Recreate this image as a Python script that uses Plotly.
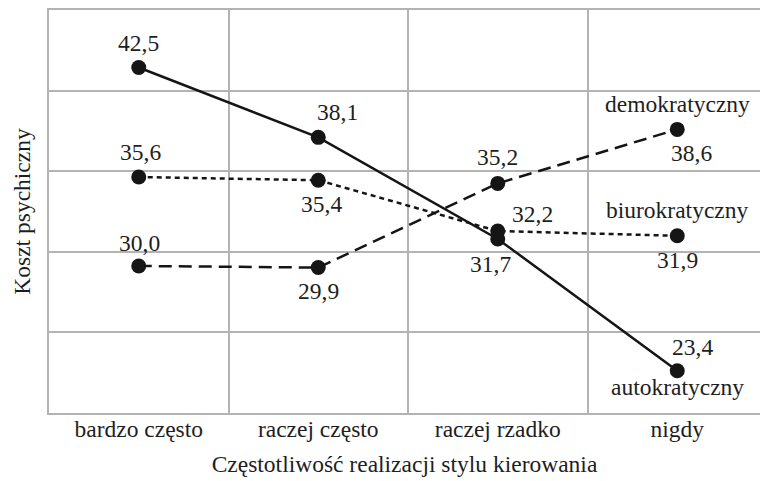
import plotly.graph_objects as go

categories = ["bardzo często", "raczej często", "raczej rzadko", "nigdy"]
series_names = ["autokratyczny", "demokratyczny", "biurokratyczny"]
autokratyczny = [42.5, 38.1, 31.7, 23.4]
demokratyczny = [30.0, 29.9, 35.2, 38.6]
biurokratyczny = [35.6, 35.4, 32.2, 31.9]
value_labels = {
    "autokratyczny": ["42,5", "38,1", "31,7", "23,4"],
    "demokratyczny": ["30,0", "29,9", "35,2", "38,6"],
    "biurokratyczny": ["35,6", "35,4", "32,2", "31,9"],
}
x_title = "Częstotliwość realizacji stylu kierowania"
y_title = "Koszt psychiczny"

FONT = "Liberation Serif"
FS = 23.5
GRID = "#b3b3b3"
TXT = "#1e1e1e"

x = list(range(len(categories)))
ymin, ymax = 20.74, 46.12
xmin, xmax = -0.5, 3.461

fig = go.Figure()
styles = {
    "autokratyczny": "solid",
    "demokratyczny": "13px,7px",
    "biurokratyczny": "5px,4px",
}
data = {"autokratyczny": autokratyczny, "demokratyczny": demokratyczny, "biurokratyczny": biurokratyczny}
for name in ["demokratyczny", "biurokratyczny", "autokratyczny"]:
    fig.add_trace(go.Scatter(
        x=x, y=data[name], mode="lines+markers", name=name,
        line=dict(color="#151515", width=2.5, dash=styles[name]),
        marker=dict(color="#151515", size=15, symbol="circle"),
        showlegend=False,
    ))

# label offsets (xshift, yshift) in pixels relative to each point
offsets = {
    "autokratyczny": [(0, 24), (19, 25), (-7, -25), (15, 24)],
    "demokratyczny": [(1, 23), (0, -23), (0, 26), (14, -24)],
    "biurokratyczny": [(2, 25), (3, -24), (35, 17), (0, -24)],
}
ann = []
for name in series_names:
    for i, (xs, ys) in enumerate(offsets[name]):
        ann.append(dict(x=x[i], y=data[name][i], xref="x", yref="y",
                        text=value_labels[name][i], showarrow=False,
                        xshift=xs, yshift=ys,
                        font=dict(family=FONT, size=FS, color=TXT)))
name_shifts = {"demokratyczny": 25, "biurokratyczny": 26, "autokratyczny": -16}
for name in series_names:
    ann.append(dict(x=x[-1], y=data[name][-1], xref="x", yref="y",
                    text=name, showarrow=False, yshift=name_shifts[name],
                    font=dict(family=FONT, size=FS, color=TXT)))

fig.update_layout(
    width=760, height=481,
    margin=dict(l=49, r=0, t=10, b=68),
    paper_bgcolor="white", plot_bgcolor="white",
    font=dict(family=FONT, size=FS, color=TXT),
    xaxis=dict(range=[xmin, xmax], tickvals=x, ticktext=categories, showgrid=False,
               zeroline=False, ticks="", showline=True, mirror=True, linecolor=GRID, linewidth=1.5,
               automargin=False, ticklabelstandoff=-6,
               tickfont=dict(family=FONT, size=FS, color=TXT),
               minor=dict(tickvals=[-0.5, 0.5, 1.5, 2.5], showgrid=True, gridcolor=GRID, gridwidth=1.5, ticks=""),
               title=dict(text=x_title, font=dict(family=FONT, size=FS, color=TXT), standoff=15)),
    yaxis=dict(range=[ymin, ymax], tickvals=[ymin + i * (ymax - ymin) / 5 for i in range(1, 5)],
               showticklabels=False, showgrid=True, gridcolor=GRID, gridwidth=1.5,
               zeroline=False, ticks="", showline=True, linecolor=GRID, linewidth=1.5,
               automargin=False,
               title=dict(text=y_title, font=dict(family=FONT, size=FS, color=TXT), standoff=10)),
    annotations=ann,
)
fig.write_html("out.html", config={"displayModeBar": False},
               post_script="document.body.style.margin='0';document.body.style.overflow='hidden';")
